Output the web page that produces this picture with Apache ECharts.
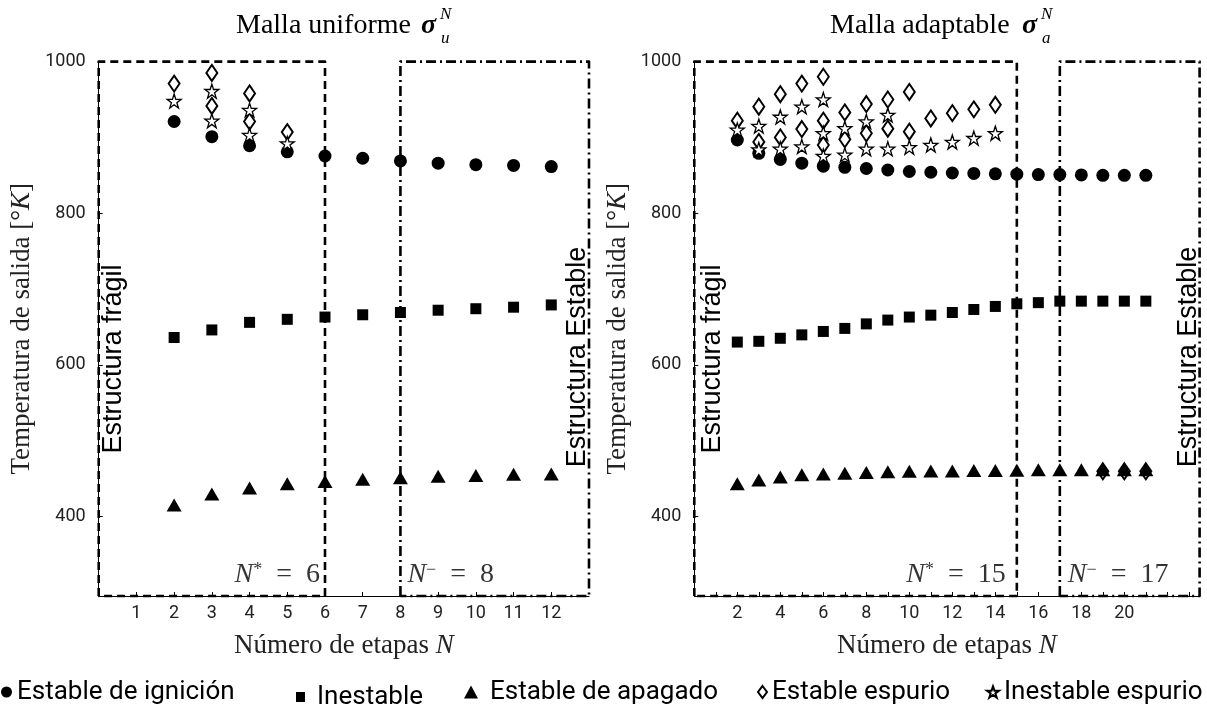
<!DOCTYPE html>
<html>
<head>
<meta charset="utf-8">
<script src="https://cdn.jsdelivr.net/npm/echarts@6/dist/echarts.min.js"></script>
<style>
  html, body { margin: 0; padding: 0; background: #fff; }
  #chart { width: 1207px; height: 715px; }
</style>
</head>
<body>
<div id="chart"></div>
<script>
// ---- Uniform mesh (left panel) ----
const uniformN = [2, 3, 4, 5, 6, 7, 8, 9, 10, 11, 12];
const uniformIgnicion = [921, 901, 889, 881, 875.5, 872.5, 869, 866, 864, 863, 861.5];
const uniformInestable = [636, 646, 656, 660, 663, 666, 669, 672, 674, 676, 679];
const uniformApagado = [415, 429.5, 437.5, 443, 446, 449, 451, 453, 454, 455.5, 456];
const uniformEstableEspurio = [[2, 971], [3, 985], [3, 941.5], [4, 958], [4, 921], [5, 907]];
const uniformInestableEspurio = [[2, 948], [3, 961], [3, 922], [4, 936], [4, 903], [5, 892]];
const uniformNStar = 6;
const uniformNMinus = 8;

// ---- Adaptive mesh (right panel) ----
const adaptN = [2, 3, 4, 5, 6, 7, 8, 9, 10, 11, 12, 13, 14, 15, 16, 17, 18, 19, 20, 21];
const adaptIgnicion = [896.6, 879, 871, 866, 862, 860.5, 859, 857, 855, 854, 853, 852.5, 852, 851.5, 851, 851, 850.5, 850, 850, 850];
const adaptInestable = [630, 631, 635, 639.5, 644, 648, 654, 659, 663, 665.5, 669, 673, 677, 680.5, 682, 684, 684, 684, 684, 684];
const adaptApagado = [443, 448, 452, 455, 456, 457, 458, 459, 459.5, 460, 460, 460.5, 460.5, 461, 461.5, 461.5, 461.5, 461.5, 461.5, 461.5];
const adaptEstableEspurio = [[2, 922], [3, 940.5], [3, 894], [4, 957], [4, 900], [5, 971], [5, 911], [6, 980], [6, 922], [6, 890],
  [7, 933], [7, 897.5], [8, 944], [8, 905.5], [9, 950], [9, 911.5], [10, 960], [10, 907.5], [11, 925], [12, 932], [13, 937], [14, 943],
  [19, 459.5], [20, 459.5], [21, 459.5]];
const adaptInestableEspurio = [[2, 910], [3, 915], [3, 884], [4, 927], [4, 885], [5, 940.5], [5, 888], [6, 950], [6, 905.5], [6, 875.5],
  [7, 912], [7, 877], [8, 921], [8, 885], [9, 929.6], [9, 885], [10, 887], [11, 890], [12, 894], [13, 899], [14, 905.5]];
const adaptNStar = 15;
const adaptNMinus = 17;

// ---- Axes ----
const yTicks = [400, 600, 800, 1000];
const yMin = 295, yMax = 1000;
const uniformXMax = 13;
const adaptXMax = 23.5;

const seriesNames = ['Estable de ignición', 'Inestable', 'Estable de apagado', 'Estable espurio', 'Inestable espurio'];

const STAR = 'path://M50,2 L61.8,37.4 L99,37.4 L69,59.4 L80.5,95 L50,73 L19.5,95 L31,59.4 L1,37.4 L38.2,37.4 Z';
const SERIF = '"Liberation Serif", "DejaVu Serif", serif';
const SANS = 'Roboto, "Liberation Sans", sans-serif';

const zip = (xs, ys) => xs.map((x, i) => [x, ys[i]]);
const pairs = (arr) => arr.map(p => [p[0], p[1]]);
const rect = (x0, x1) => [[x0, yMin], [x0, yMax], [x1, yMax], [x1, yMin], [x0, yMin]];

const thresholdRich = {
  i: { fontFamily: SERIF, fontStyle: 'italic', fontSize: 28, color: '#000' },
  s: { fontFamily: SERIF, fontSize: 18, color: '#000', verticalAlign: 'top', padding: [0, 0, 10, 0] },
  t: { fontFamily: SERIF, fontSize: 28, color: '#000' }
};

function panelSeries(idx, n, ign, ines, apag, estEsp, inesEsp, nStar, nMinus, xMax, gapStar, gapMinus) {
  const base = { type: 'scatter', xAxisIndex: idx, yAxisIndex: idx, animation: false };
  const black = { color: '#000', opacity: 1 };
  return [
    { ...base, type: 'line', name: 'boxFragil', data: rect(0, nStar), symbol: 'none', clip: false, silent: true, z: 5,
      lineStyle: { color: '#000', width: 2.6, type: [8, 5], join: 'round', opacity: 1 } },
    { ...base, type: 'line', name: 'boxEstable', data: rect(nMinus, xMax), symbol: 'none', clip: false, silent: true, z: 5,
      lineStyle: { color: '#000', width: 2.6, type: [10, 4, 2, 4], join: 'round', opacity: 1 } },
    { ...base, name: seriesNames[0], data: zip(n, ign), symbol: 'circle', symbolSize: 13, itemStyle: black, z: 6 },
    { ...base, name: seriesNames[1], data: zip(n, ines), symbol: 'rect', symbolSize: 11, itemStyle: black, z: 6 },
    { ...base, name: seriesNames[3], data: pairs(estEsp), symbol: 'diamond', symbolSize: [11, 16], z: 6,
      itemStyle: { color: '#fff', borderColor: '#000', borderWidth: 2, opacity: 1 } },
    { ...base, name: seriesNames[2], data: zip(n, apag), symbol: 'triangle', symbolSize: [15, 13], itemStyle: black, z: 7 },
    { ...base, name: seriesNames[4], data: pairs(inesEsp), symbol: STAR, symbolSize: 14, z: 8,
      itemStyle: { color: '#fff', borderColor: '#000', borderWidth: 1.3, opacity: 1 } },
    // threshold labels placed at the box edges
    { ...base, name: 'nStarLabel', data: [[nStar, yMin]], symbolSize: 0, silent: true, z: 9,
      label: { show: true, position: 'left', distance: gapStar, offset: [0, -21],
        formatter: '{i|N}{s|*}{t|  =  ' + nStar + '}', rich: thresholdRich } },
    { ...base, name: 'nMinusLabel', data: [[nMinus, yMin]], symbolSize: 0, silent: true, z: 9,
      label: { show: true, position: 'right', distance: gapMinus, offset: [0, -21],
        formatter: '{i|N}{s|−}{t|  =  ' + nMinus + '}', rich: thresholdRich } }
  ];
}

const grids = [
  { left: 98.7, top: 61.6, width: 490.3, height: 534.4 },
  { left: 694.3, top: 61.6, width: 505.3, height: 534.4 }
];

function xAxis(idx, xMax, labelFn) {
  return {
    type: 'value', gridIndex: idx, min: 0, max: xMax, interval: 1,
    splitLine: { show: false },
    axisLine: { show: true, onZero: false, lineStyle: { color: '#000', width: 1 } },
    axisTick: { show: true, inside: true, length: 4, lineStyle: { color: '#000' } },
    axisLabel: { showMinLabel: false, showMaxLabel: false, margin: 8,
      fontFamily: SANS, fontSize: 18, color: '#222', formatter: labelFn },
    name: '{a|Número de etapas }{b|N}', nameLocation: 'middle', nameGap: 36,
    nameTextStyle: { rich: {
      a: { fontFamily: SERIF, fontSize: 27, color: '#222' },
      b: { fontFamily: SERIF, fontStyle: 'italic', fontSize: 27, color: '#222' }
    } }
  };
}

function yAxis(idx) {
  return {
    type: 'value', gridIndex: idx, min: yMin, max: yMax,
    splitLine: { show: false },
    axisLine: { show: true, onZero: false, lineStyle: { color: '#000', width: 1 } },
    axisTick: { show: true, inside: true, length: 4, customValues: yTicks, lineStyle: { color: '#000' } },
    axisLabel: { customValues: yTicks, margin: 13, fontFamily: SANS, fontSize: 18, color: '#222',
      formatter: v => String(v) },
    name: '{a|Temperatura de salida [°}{b|K}{a|]}', nameLocation: 'middle', nameRotate: 90, nameGap: 63,
    nameTextStyle: { rich: {
      a: { fontFamily: SERIF, fontSize: 27, color: '#222' },
      b: { fontFamily: SERIF, fontStyle: 'italic', fontSize: 27, color: '#222' }
    } }
  };
}

const legendDefs = [
  { name: seriesNames[0], left: 1, icon: 'circle', w: 11, h: 11, pad: 0, top: 679 },
  { name: seriesNames[1], left: 296, icon: 'rect', w: 9, h: 10, pad: 7, top: 684 },
  { name: seriesNames[2], left: 464, icon: 'triangle', w: 14, h: 13, pad: 7, top: 679 },
  { name: seriesNames[3], left: 757, icon: 'diamond', w: 9, h: 12, pad: 0, top: 679 },
  { name: seriesNames[4], left: 986, icon: STAR, w: 12, h: 12, pad: 0, top: 679 }
];

function titleText(x, main, sigmaX, sub) {
  return [
    { type: 'text', left: x, top: 12, style: { text: main, font: '28px ' + SERIF, fill: '#000' } },
    { type: 'text', left: sigmaX, top: 12, style: { text: 'σ', font: 'italic bold 28px ' + SERIF, fill: '#000' } },
    { type: 'text', left: sigmaX + 19, top: 6, style: { text: 'N', font: 'italic 17px ' + SERIF, fill: '#000' } },
    { type: 'text', left: sigmaX + 20, top: 30, style: { text: sub, font: 'italic 17px ' + SERIF, fill: '#000' } }
  ];
}

function vText(x, y, text) {
  return { type: 'text', x: x, y: y, rotation: Math.PI / 2,
    style: { text: text, font: '27px "Liberation Sans", Arial, sans-serif', fill: '#000', align: 'center', verticalAlign: 'middle' }, z: 20 };
}

const option = {
  backgroundColor: '#fff',
  animation: false,
  grid: grids,
  xAxis: [
    xAxis(0, uniformXMax, v => (v >= 1 && v <= 12 ? String(v) : '')),
    xAxis(1, adaptXMax, v => (v >= 2 && v <= 20 && v % 2 === 0 ? String(v) : ''))
  ],
  yAxis: [yAxis(0), yAxis(1)],
  legend: legendDefs.map(d => ({
    data: [{ name: d.name, icon: d.icon }], left: d.left, top: d.top, selectedMode: false,
    itemWidth: d.w, itemHeight: d.h, itemGap: 0, padding: 0,
    textStyle: { fontFamily: SANS, fontSize: 26, color: '#000', padding: [0, 0, 0, d.pad] }
  })),
  graphic: [
    ...titleText(236, 'Malla uniforme', 421, 'u'),
    ...titleText(830, 'Malla adaptable', 1022, 'a'),
    vText(114, 359, 'Estructura frágil'),
    vText(578, 357, 'Estructura Estable'),
    vText(713, 359, 'Estructura frágil'),
    vText(1189, 357, 'Estructura Estable')
  ],
  series: [
    ...panelSeries(0, uniformN, uniformIgnicion, uniformInestable, uniformApagado,
      uniformEstableEspurio, uniformInestableEspurio, uniformNStar, uniformNMinus, uniformXMax, 5, 7),
    ...panelSeries(1, adaptN, adaptIgnicion, adaptInestable, adaptApagado,
      adaptEstableEspurio, adaptInestableEspurio, adaptNStar, adaptNMinus, adaptXMax, 11, 8)
  ]
};

const chart = echarts.init(document.getElementById('chart'), null, { renderer: 'canvas' });
chart.setOption(option);
</script>
</body>
</html>
